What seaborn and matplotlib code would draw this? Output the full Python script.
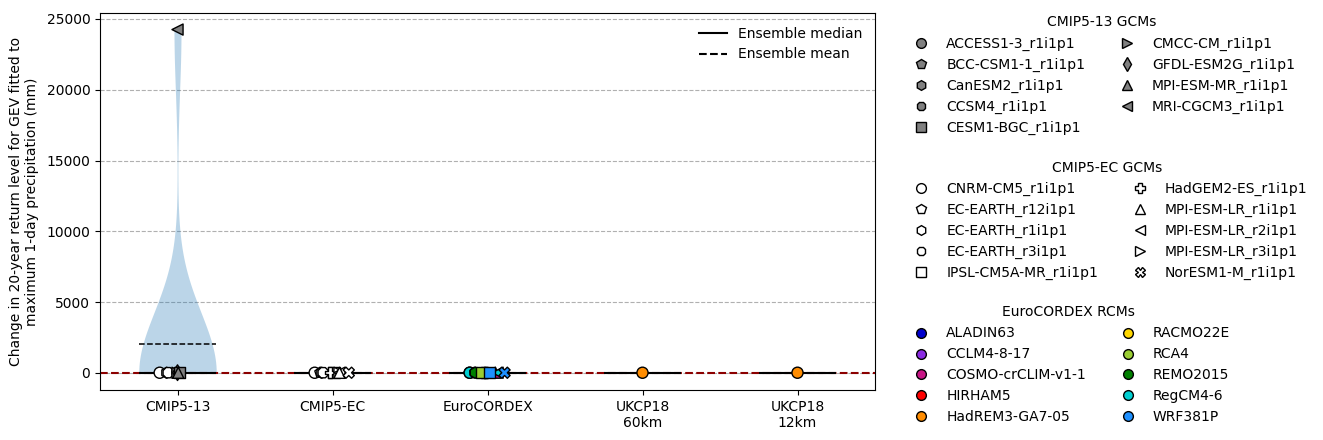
import matplotlib
matplotlib.use('Agg')
import matplotlib.pyplot as plt
from matplotlib.lines import Line2D
import numpy as np
import pandas as pd
import seaborn as sns

# --- Data ---
GROUPS = ['CMIP5-13', 'CMIP5-EC', 'EuroCORDEX', 'UKCP18\n60km', 'UKCP18\n12km']

CMIP5_13_GCMS = ['ACCESS1-3_r1i1p1', 'BCC-CSM1-1_r1i1p1', 'CanESM2_r1i1p1', 'CCSM4_r1i1p1', 'CESM1-BGC_r1i1p1',
                 'CMCC-CM_r1i1p1', 'GFDL-ESM2G_r1i1p1', 'MPI-ESM-MR_r1i1p1', 'MRI-CGCM3_r1i1p1']
CMIP5_13_VALUES = [8, 12, 5, 15, 9, 6, 13, 10, 24250]
CMIP5_13_MARKERS = ['o', 'p', 'h', '8', 's', '>', 'd', '^', '<']
CMIP5_13_DODGE = [0, 0, 0, 0, 0.012, 0, 0, 0.005, 0]
CMIP5_13_DRAW_ORDER = [0, 1, 2, 3, 5, 6, 4, 7, 8]

CMIP5_EC_GCMS = ['CNRM-CM5_r1i1p1', 'EC-EARTH_r12i1p1', 'EC-EARTH_r1i1p1', 'EC-EARTH_r3i1p1', 'IPSL-CM5A-MR_r1i1p1',
                 'HadGEM2-ES_r1i1p1', 'MPI-ESM-LR_r1i1p1', 'MPI-ESM-LR_r2i1p1', 'MPI-ESM-LR_r3i1p1', 'NorESM1-M_r1i1p1']
CMIP5_EC_VALUES = [9, 14, 10, 12, 8, 16, 6, 11, 9, 10]
CMIP5_EC_MARKERS = ['o', 'p', 'h', '8', 's', 'P', '^', '<', '>', 'X']
CMIP5_EC_DODGE = [-0.115, -0.08, -0.07, -0.06, 0.01, -0.015, 0.045, 0.045, 0.045, 0.105]
CMIP5_EC_DRAW_ORDER = [0, 1, 2, 3, 4, 5, 8, 7, 6, 9]

# the EC models that also sit in the CMIP5-13 ensemble
SHARED_EC_GCMS = ['CNRM-CM5_r1i1p1', 'EC-EARTH_r1i1p1', 'EC-EARTH_r3i1p1']
SHARED_EC_VALUES = [10, 11, 13]

RCMS = ['ALADIN63', 'CCLM4-8-17', 'COSMO-crCLIM-v1-1', 'HIRHAM5', 'HadREM3-GA7-05',
        'RACMO22E', 'RCA4', 'REMO2015', 'RegCM4-6', 'WRF381P']
RCM_COLORS = ['mediumblue', 'blueviolet', 'mediumvioletred', 'red', 'darkorange',
              'gold', 'yellowgreen', 'green', 'darkturquoise', 'dodgerblue']

EURO_RCMS = ['ALADIN63', 'RegCM4-6', 'HIRHAM5', 'RACMO22E', 'REMO2015', 'HadREM3-GA7-05', 'CCLM4-8-17', 'RCA4',
             'COSMO-crCLIM-v1-1', 'RegCM4-6', 'WRF381P', 'WRF381P']
EURO_GCMS = ['CNRM-CM5_r1i1p1', 'CNRM-CM5_r1i1p1', 'EC-EARTH_r3i1p1', 'EC-EARTH_r12i1p1', 'EC-EARTH_r1i1p1',
             'HadGEM2-ES_r1i1p1', 'HadGEM2-ES_r1i1p1', 'IPSL-CM5A-MR_r1i1p1', 'MPI-ESM-LR_r1i1p1',
             'MPI-ESM-LR_r2i1p1', 'IPSL-CM5A-MR_r1i1p1', 'NorESM1-M_r1i1p1']
EURO_VALUES = [11, 9, 15, 6, 12, 16, 8, 10, 14, 11, 9, 10]
EURO_DODGE = [-0.115, -0.115, -0.08, -0.08, -0.08, -0.01, -0.03, -0.04, 0.05, 0.065, 0.013, 0.11]

UKCP60_VALUES = [7, 9, 10, 9, 6, 12, 8, 10, 11, 8, 9, 8]
UKCP12_VALUES = [8, 10, 12, 9, 7, 13, 10, 11, 12, 8, 10, 9]

# --- Build tables ---
ensembles = {
    GROUPS[0]: CMIP5_13_VALUES + SHARED_EC_VALUES,
    GROUPS[1]: CMIP5_EC_VALUES,
    GROUPS[2]: EURO_VALUES,
    GROUPS[3]: UKCP60_VALUES,
    GROUPS[4]: UKCP12_VALUES,
}
violin_df = pd.DataFrame([(g, v) for g, vals in ensembles.items() for v in vals], columns=['group', 'value'])

ec_marker = dict(zip(CMIP5_EC_GCMS, CMIP5_EC_MARKERS))
ec_dodge = dict(zip(CMIP5_EC_GCMS, CMIP5_EC_DODGE))
rcm_color = dict(zip(RCMS, RCM_COLORS))

rows = []
for gcm, val in zip(SHARED_EC_GCMS, SHARED_EC_VALUES):
    rows.append((0 + ec_dodge[gcm], val, ec_marker[gcm], 'white'))
for i in CMIP5_13_DRAW_ORDER:
    rows.append((0 + CMIP5_13_DODGE[i], CMIP5_13_VALUES[i], CMIP5_13_MARKERS[i], 'grey'))
for i in CMIP5_EC_DRAW_ORDER:
    rows.append((1 + CMIP5_EC_DODGE[i], CMIP5_EC_VALUES[i], CMIP5_EC_MARKERS[i], 'white'))
for rcm, gcm, val, dx in zip(EURO_RCMS, EURO_GCMS, EURO_VALUES, EURO_DODGE):
    rows.append((2 + dx, val, ec_marker[gcm], rcm_color[rcm]))
rows.append((3, np.median(UKCP60_VALUES), 'o', 'darkorange'))
rows.append((4, np.median(UKCP12_VALUES), 'o', 'darkorange'))
points_df = pd.DataFrame(rows, columns=['x', 'y', 'marker', 'face'])


def legend_handles(markers, faces):
    return [Line2D([], [], linestyle='none', marker=m, markersize=7, markerfacecolor=f,
                   markeredgecolor='k', markeredgewidth=1) for m, f in zip(markers, faces)]


fig = plt.figure(figsize=(13.23, 4.4), dpi=100)
ax = fig.add_axes([100 / 1323, 1 - 390 / 440, 775 / 1323, 377 / 440])

ax.axhline(0, color='darkred', linestyle='--', linewidth=1.5, zorder=2)

sns.violinplot(data=violin_df, x='group', y='value', order=GROUPS, color='#1f77b4', saturation=1,
               inner=None, cut=0, width=0.5, density_norm='width', bw_method='scott',
               linewidth=0, alpha=0.3, ax=ax)

# ensemble median and mean bars
for i, g in enumerate(GROUPS):
    ax.hlines(np.median(ensembles[g]), i - 0.25, i + 0.25, color='k', linewidth=1.5, zorder=3)
    ax.hlines(np.mean(ensembles[g]), i - 0.25, i + 0.25, color='k', linestyle='--', linewidth=1.1, zorder=3)

sns.scatterplot(data=points_df, x='x', y='y', hue='face', style='marker',
                palette={f: f for f in points_df['face'].unique()},
                markers={m: m for m in points_df['marker'].unique()},
                s=64, edgecolor='k', linewidth=1, legend=False, zorder=5, ax=ax)

ax.set_xlim(-0.5, 4.5)
ax.set_ylim(-1210, 25420)
ax.set_xticks(range(len(GROUPS)))
ax.set_xticklabels(GROUPS)
ax.set_xlabel('')
ax.set_ylabel('Change in 20-year return level for GEV fitted to\nmaximum 1-day precipitation (mm)', labelpad=5)
ax.set_yticks(range(0, 25001, 5000))
ax.grid(axis='y', linestyle='--')
ax.set_axisbelow(True)

ax.legend(handles=[Line2D([], [], color='k', linewidth=1.5, label='Ensemble median'),
                   Line2D([], [], color='k', linestyle='--', linewidth=1.5, label='Ensemble mean')],
          loc='upper right', bbox_to_anchor=(1, 1 - 1 / 377), frameon=False)

# three model legends in the right-hand column
fig.legend(legend_handles(CMIP5_13_MARKERS, ['grey'] * 9), CMIP5_13_GCMS, title='CMIP5-13 GCMs', ncol=2,
           frameon=False, loc='upper left', bbox_to_anchor=(895 / 1323, 1 - 3 / 440))
fig.legend(legend_handles(CMIP5_EC_MARKERS, ['white'] * 10), CMIP5_EC_GCMS, title='CMIP5-EC GCMs', ncol=2,
           frameon=False, loc='upper left', bbox_to_anchor=(895 / 1323, 1 - 148 / 440))
fig.legend(legend_handles(['o'] * 10, RCM_COLORS), RCMS, title='EuroCORDEX RCMs', ncol=2,
           frameon=False, loc='upper left', bbox_to_anchor=(895 / 1323, 1 - 293 / 440))

fig.savefig('out.png', dpi=100)
